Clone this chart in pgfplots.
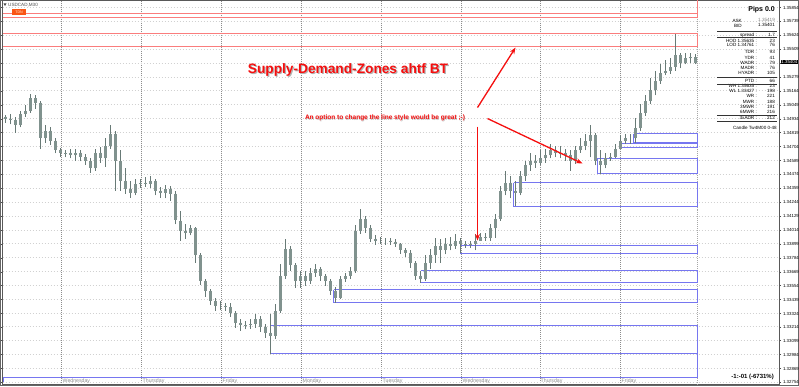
\documentclass[border=0pt]{standalone}
\usepackage{pgfplots}
\pgfplotsset{compat=1.18}
\usepackage{pgfplotstable}
\usepackage{fontspec}
\setmainfont{Liberation Sans}
\usetikzlibrary{arrows.meta}
\definecolor{wick}{RGB}{104,122,118}
\definecolor{bodyc}{RGB}{128,146,142}
\definecolor{zb}{RGB}{118,118,240}
\definecolor{zr}{RGB}{250,125,125}
\definecolor{ared}{RGB}{245,15,15}
\newcommand{\fs}[1]{\fontsize{#1}{#1}\selectfont}

\pgfplotstableread{
x o h l c
5 1.34952 1.34969 1.34903 1.34936
10 1.34936 1.34977 1.34887 1.34920
15 1.34920 1.34952 1.34820 1.34879
20 1.34879 1.35002 1.34862 1.34977
25 1.34977 1.35044 1.34952 1.35002
30 1.35002 1.35143 1.34985 1.35102
35 1.35102 1.35127 1.35019 1.35068
40 1.35068 1.35085 1.34688 1.34771
45 1.34771 1.34879 1.34737 1.34837
50 1.34837 1.34862 1.34721 1.34754
55 1.34754 1.34771 1.34647 1.34672
60 1.34672 1.34696 1.34622 1.34647
65 1.34647 1.34680 1.34614 1.34655
70 1.34655 1.34688 1.34606 1.34631
75 1.34631 1.34688 1.34589 1.34655
80 1.34655 1.34672 1.34581 1.34614
85 1.34614 1.34639 1.34556 1.34589
90 1.34589 1.34606 1.34489 1.34523
95 1.34523 1.34688 1.34506 1.34655
100 1.34655 1.34704 1.34572 1.34606
105 1.34606 1.34771 1.34539 1.34713
110 1.34713 1.34879 1.34688 1.34812
115 1.34812 1.34837 1.34341 1.34589
120 1.34589 1.34672 1.34341 1.34423
125 1.34423 1.34523 1.34316 1.34357
130 1.34357 1.34423 1.34283 1.34324
135 1.34324 1.34440 1.34300 1.34398
140 1.34398 1.34440 1.34365 1.34406
145 1.34406 1.34456 1.34373 1.34398
150 1.34398 1.34465 1.34365 1.34423
155 1.34423 1.34440 1.34300 1.34341
160 1.34341 1.34373 1.34283 1.34324
165 1.34324 1.34390 1.34275 1.34357
170 1.34357 1.34382 1.34258 1.34316
175 1.34316 1.34341 1.34060 1.34093
180 1.34093 1.34175 1.33927 1.34010
185 1.34010 1.34060 1.33944 1.33993
190 1.33993 1.34052 1.33969 1.34027
195 1.34027 1.34043 1.33745 1.33804
200 1.33804 1.33828 1.33563 1.33596
205 1.33596 1.33613 1.33464 1.33514
210 1.33514 1.33530 1.33398 1.33431
215 1.33431 1.33456 1.33348 1.33390
220 1.33390 1.33431 1.33357 1.33390
225 1.33390 1.33414 1.33348 1.33381
230 1.33381 1.33414 1.33298 1.33331
235 1.33331 1.33348 1.33208 1.33249
240 1.33249 1.33282 1.33183 1.33225
245 1.33225 1.33266 1.33192 1.33233
250 1.33233 1.33282 1.33200 1.33241
255 1.33241 1.33323 1.33208 1.33282
260 1.33282 1.33307 1.33175 1.33216
265 1.33216 1.33241 1.33125 1.33166
270 1.33166 1.33323 1.32993 1.33142
275 1.33142 1.33406 1.33117 1.33348
280 1.33348 1.33737 1.33331 1.33638
285 1.33638 1.33944 1.33613 1.33861
290 1.33861 1.33886 1.33679 1.33721
295 1.33721 1.33745 1.33538 1.33596
300 1.33596 1.33679 1.33538 1.33638
305 1.33638 1.33679 1.33555 1.33596
310 1.33596 1.33704 1.33571 1.33662
315 1.33662 1.33737 1.33629 1.33696
320 1.33696 1.33712 1.33596 1.33638
325 1.33638 1.33654 1.33555 1.33596
330 1.33596 1.33613 1.33481 1.33514
335 1.33514 1.33546 1.33414 1.33456
340 1.33456 1.33638 1.33440 1.33613
345 1.33613 1.33662 1.33588 1.33638
350 1.33638 1.33712 1.33613 1.33679
355 1.33679 1.34052 1.33662 1.34010
360 1.34010 1.34192 1.33985 1.34109
365 1.34109 1.34134 1.33993 1.34027
370 1.34027 1.34052 1.33919 1.33944
375 1.33944 1.33969 1.33894 1.33927
380 1.33927 1.33960 1.33902 1.33927
385 1.33927 1.33952 1.33894 1.33927
390 1.33927 1.33952 1.33894 1.33919
395 1.33919 1.33944 1.33877 1.33902
400 1.33902 1.33910 1.33820 1.33845
405 1.33845 1.33869 1.33795 1.33828
410 1.33828 1.33845 1.33704 1.33745
415 1.33745 1.33762 1.33605 1.33638
420 1.33638 1.33679 1.33579 1.33613
425 1.33613 1.33804 1.33596 1.33745
430 1.33745 1.33861 1.33696 1.33804
435 1.33804 1.33952 1.33745 1.33886
440 1.33886 1.33944 1.33745 1.33845
445 1.33845 1.33952 1.33812 1.33902
450 1.33902 1.33960 1.33845 1.33886
455 1.33886 1.33985 1.33861 1.33927
460 1.33927 1.33952 1.33828 1.33902
465 1.33902 1.33927 1.33869 1.33894
470 1.33894 1.33927 1.33869 1.33902
475 1.33902 1.33985 1.33845 1.33927
480 1.33927 1.33993 1.33927 1.33960
485 1.33960 1.33993 1.33927 1.33952
490 1.33952 1.34060 1.33927 1.34027
495 1.34027 1.34150 1.33952 1.34109
500 1.34109 1.34382 1.34093 1.34341
505 1.34341 1.34506 1.34300 1.34406
510 1.34406 1.34465 1.34275 1.34341
515 1.34341 1.34423 1.34217 1.34324
520 1.34324 1.34506 1.34300 1.34465
525 1.34465 1.34589 1.34423 1.34548
530 1.34548 1.34647 1.34506 1.34589
535 1.34589 1.34631 1.34531 1.34572
540 1.34572 1.34672 1.34548 1.34606
545 1.34606 1.34688 1.34572 1.34631
550 1.34631 1.34729 1.34606 1.34672
555 1.34672 1.34713 1.34614 1.34647
560 1.34647 1.34713 1.34606 1.34655
565 1.34655 1.34688 1.34589 1.34631
570 1.34631 1.34672 1.34506 1.34589
575 1.34589 1.34713 1.34564 1.34672
580 1.34672 1.34771 1.34655 1.34713
585 1.34713 1.34812 1.34672 1.34754
590 1.34754 1.34879 1.34614 1.34796
595 1.34796 1.34820 1.34548 1.34589
600 1.34589 1.34672 1.34481 1.34548
605 1.34548 1.34647 1.34523 1.34606
610 1.34606 1.34655 1.34589 1.34622
615 1.34622 1.34729 1.34606 1.34688
620 1.34688 1.34796 1.34696 1.34754
625 1.34754 1.34812 1.34729 1.34771
630 1.34771 1.34812 1.34729 1.34771
635 1.34771 1.34944 1.34737 1.34854
640 1.34854 1.35060 1.34837 1.34985
645 1.34985 1.35127 1.34961 1.35085
650 1.35085 1.35275 1.35060 1.35168
655 1.35168 1.35333 1.35127 1.35250
660 1.35250 1.35391 1.35225 1.35316
665 1.35316 1.35416 1.35292 1.35333
670 1.35333 1.35433 1.35308 1.35366
675 1.35366 1.35639 1.35333 1.35458
680 1.35458 1.35482 1.35350 1.35399
685 1.35399 1.35482 1.35383 1.35433
690 1.35433 1.35482 1.35399 1.35441
695 1.35441 1.35466 1.35383 1.35399
}\candles

\begin{document}
\begin{tikzpicture}[x=1pt,y=1pt]
\useasboundingbox (0,0) rectangle (799,386);
\fill[white] (0,0) rectangle (799,386);
\draw[black!60, line width=1pt] (0.5,0.5) rectangle (798.5,385.5);
\begin{axis}[
  at={(2.5pt,1.5pt)}, anchor=south west, scale only axis,
  width=777pt, height=384pt,
  xmin=2, xmax=779, ymin=1.32737, ymax=1.35912,
  clip=false,
  axis line style={black!65, line width=1pt},
  xtick={61,141,221,301,381,461,540,620}, xticklabels={},
  xtick style={draw=none},
  xmajorgrids, ymajorgrids,
  major x grid style={black!45, dash pattern=on 1pt off 1pt, line width=1pt},
  major y grid style={black!18, dash pattern=on 1pt off 2pt, line width=1pt},
  ytick={1.35854,1.35739,1.35624,1.35509,1.35394,1.35279,1.35164,1.35049,1.34934,1.34819,1.34704,1.34589,1.34474,1.34359,1.34244,1.34129,1.34014,1.33899,1.33784,1.33669,1.33554,1.33439,1.33324,1.33214,1.33099,1.32984,1.32869,1.32754},
  yticklabels={1.35854,1.35739,1.35624,1.35509,,1.35279,1.35164,1.35049,1.34934,1.34819,1.34704,1.34589,1.34474,1.34359,1.34244,1.34129,1.34014,1.33899,1.33784,1.33669,1.33554,1.33439,1.33324,1.33214,1.33099,1.32984,1.32869,1.32754},
  yticklabel pos=right,
  yticklabel style={font=\fs{4.4}, anchor=west, inner sep=0pt, xshift=1.7pt},
  ytick style={draw=black!70, line width=0.5pt},
  tick align=outside, major tick length=1.6pt,
]
% end-of-chart dotted line
\addplot[black!35, dash pattern=on 1pt off 1pt, line width=1pt, forget plot] coordinates {(697,1.32737) (697,1.35912)};
% supply zones (red)
\addplot[draw=zr, line width=1.4pt, forget plot] coordinates {(2,1.35804) (697,1.35804) (697,1.35912)};
\addplot[draw=zr, line width=1.4pt, forget plot] coordinates {(2,1.35771) (697,1.35771) (697,1.35804)};
\addplot[draw=zr, line width=1.4pt, forget plot] coordinates {(2,1.35639) (697,1.35639) (697,1.35531) (2,1.35531)};
% demand zones (blue)
\addplot[draw=zb, line width=1.4pt, forget plot] coordinates {(633,1.34812) (697,1.34812) (697,1.34737) (633,1.34737) (633,1.34812)};
\addplot[draw=zb, line width=1.4pt, forget plot] coordinates {(620,1.34729) (697,1.34729) (697,1.34696) (620,1.34696) (620,1.34729)};
\addplot[draw=zb, line width=1.4pt, forget plot] coordinates {(597,1.34606) (697,1.34606) (697,1.34481) (597,1.34481) (597,1.34606)};
\addplot[draw=zb, line width=1.4pt, forget plot] coordinates {(513,1.34406) (697,1.34406) (697,1.34208) (513,1.34208) (513,1.34406)};
\addplot[draw=zb, line width=1.4pt, forget plot] coordinates {(460,1.33886) (697,1.33886) (697,1.33820) (460,1.33820) (460,1.33886)};
\addplot[draw=zb, line width=1.4pt, forget plot] coordinates {(420,1.33679) (697,1.33679) (697,1.33579) (420,1.33579) (420,1.33679)};
\addplot[draw=zb, line width=1.4pt, forget plot] coordinates {(333,1.33522) (697,1.33522) (697,1.33414) (333,1.33414) (333,1.33522)};
\addplot[draw=zb, line width=1.4pt, forget plot] coordinates {(270,1.33225) (697,1.33225) (697,1.32993) (270,1.32993) (270,1.33225)};
\addplot[draw=zb, line width=1.4pt, forget plot] coordinates {(3,1.32760) (3,1.32794) (697,1.32794) (697,1.32993)};
% candles: wicks and bodies
\addplot[draw=wick, line width=1pt, mark=none, forget plot,
  quiver={u=0, v={\thisrow{h}-\thisrow{l}}}]
  table[x=x, y=l] {\candles};
\addplot[draw=bodyc, line width=3pt, mark=none, forget plot,
  quiver={u=0, v={\thisrow{c}-\thisrow{o}}}]
  table[x=x, y=o] {\candles};
% arrows
\addplot[draw=ared, line width=1.3pt, -{Stealth[length=6.5pt,width=5pt]}, forget plot] coordinates {(477,1.35027) (515,1.35523)};
\addplot[draw=ared, line width=1.3pt, -{Stealth[length=6.5pt,width=5pt]}, forget plot] coordinates {(487,1.34936) (582,1.34564)};
\addplot[draw=ared, line width=1.3pt, -{Stealth[length=6.5pt,width=5pt]}, forget plot] coordinates {(477,1.34870) (477,1.33927)};
% day labels
\node[anchor=west, inner sep=0pt, text=black!45, font=\fs{5.2}] at (axis cs:62,1.32762) {Wednesday};
\node[anchor=west, inner sep=0pt, text=black!45, font=\fs{5.2}] at (axis cs:142,1.32762) {Thursday};
\node[anchor=west, inner sep=0pt, text=black!45, font=\fs{5.2}] at (axis cs:222,1.32762) {Friday};
\node[anchor=west, inner sep=0pt, text=black!45, font=\fs{5.2}] at (axis cs:302,1.32762) {Monday};
\node[anchor=west, inner sep=0pt, text=black!45, font=\fs{5.2}] at (axis cs:382,1.32762) {Tuesday};
\node[anchor=west, inner sep=0pt, text=black!45, font=\fs{5.2}] at (axis cs:462,1.32762) {Wednesday};
\node[anchor=west, inner sep=0pt, text=black!45, font=\fs{5.2}] at (axis cs:540,1.32762) {Thursday};
\node[anchor=west, inner sep=0pt, text=black!45, font=\fs{5.2}] at (axis cs:621,1.32762) {Friday};
% current price box
\node[anchor=west, fill=black, text=white, inner sep=0.7pt, font=\fs{4.4}] at (axis cs:780,1.35404) {1.35404};
\end{axis}
% texts in pixel coordinates
\begin{scope}[x=1pt, y=-1pt, shift={(0pt,386pt)}]
\fill[black!75] (3.5,3.5) -- (6.5,3.5) -- (5,6) -- cycle;
\node[anchor=west, inner sep=0pt, text=black!70, font=\fs{4.6}] at (8,5) {USDCAD,M30};
\node[fill={rgb,255:red,250;green,85;blue,20}, text=white!85!orange, inner sep=0.8pt, minimum width=14pt, minimum height=6pt, font=\fs{3.6}] at (19,12) {TDN};
% title with shadow
\node[text=black!30, font=\fs{13.7}\bfseries] at (349.2,70.8) {Supply-Demand-Zones ahtf BT};
\node[text=ared, font=\fs{13.7}\bfseries] at (348,69.5) {Supply-Demand-Zones ahtf BT};
\node[text=black!25, font=\fs{6.5}\bfseries] at (385.6,118.6) {An option to change the line style would be great ;-)};
\node[text=ared, font=\fs{6.5}\bfseries] at (385,118) {An option to change the line style would be great ;-)};
% info panel
\node[anchor=east, inner sep=0pt, font=\fs{7}\bfseries] at (775,9.5) {Pips 0.0};
\node[anchor=east, inner sep=0pt, font=\fs{4.6}] at (742,20.5) {ASK};
\node[anchor=east, inner sep=0pt, font=\fs{4.6}, text=black!50] at (775,20) {1.35419};
\node[anchor=east, inner sep=0pt, font=\fs{4.6}] at (742,26) {BID};
\node[anchor=east, inner sep=0pt, font=\fs{4.6}] at (775,25) {1.35401};
\foreach \r/\a/\b in {35/spread :/1.7, 41/HOD 1.35635 :/23, 45/LOD 1.34761 :/76, 52/TDR :/93, 58/YDR :/41, 63/WADR :/79, 68/MADR :/76, 72.7/HYADR :/105, 80.7/PTD :/66, 86/WH 1.35635 :/23, 90.7/WL 1.33427 :/198, 96/WR :/221, 102/MWR :/188, 107/3MWR :/191, 112/6MWR :/216, 118/3xADR :/212}{
  \node[anchor=east, inner sep=0pt, font=\fs{4.6}] at (757,\r) {\a};
  \node[anchor=east, inner sep=0pt, font=\fs{4.6}] at (775,\r) {\b};
}
\foreach \r in {31.5,37.5,77.5,84.5,115.5,121.5}{
  \draw[black!80, line width=0.6pt] (717,\r) -- (777,\r);
}
\node[anchor=east, inner sep=0pt, font=\fs{4.6}] at (777,128) {Candle Tw4M00 0-48};
\node[anchor=east, inner sep=0pt, font=\fs{6}\bfseries] at (774,377) {-1:-01 (-6731\%)};
\end{scope}
\end{tikzpicture}
\end{document}
